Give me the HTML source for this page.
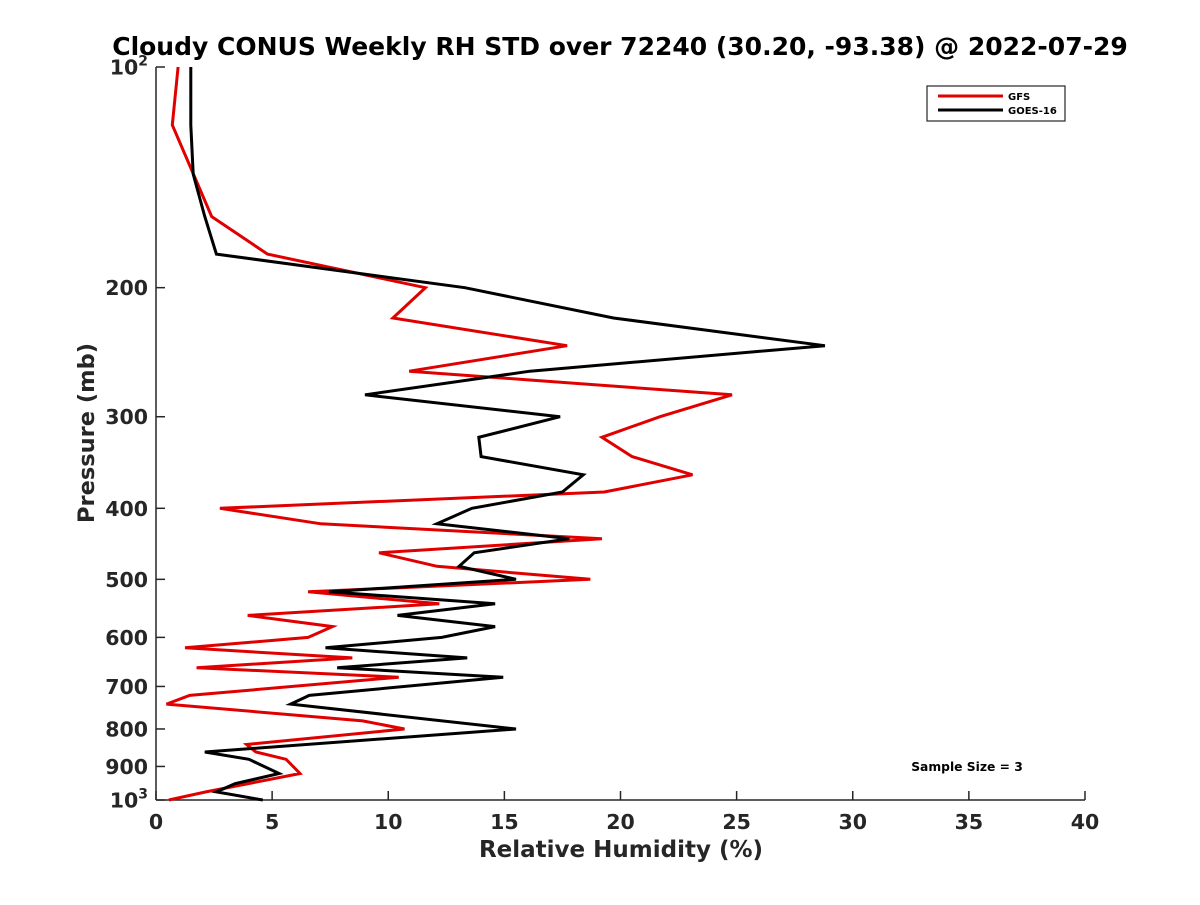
<!DOCTYPE html>
<html><head><meta charset="utf-8"><style>
body{margin:0;background:#fff;}
svg text{font-family:"DejaVu Sans","Liberation Sans",sans-serif;font-weight:bold;fill:#262626;}
</style></head><body>
<svg id="chart" width="1200" height="900" xmlns="http://www.w3.org/2000/svg">
<rect width="1200" height="900" fill="#fff"/>
<text x="620" y="55" font-size="25" text-anchor="middle" style="fill:#000">Cloudy CONUS Weekly RH STD over 72240 (30.20, -93.38) @ 2022-07-29</text>
<g id="axes"></g>
<g id="series"></g>
<g>
<rect x="927" y="86" width="138" height="35" fill="#fff" stroke="#262626" stroke-width="1.2"/>
<line x1="938" y1="96" x2="1003" y2="96" stroke="#e00000" stroke-width="3"/>
<text x="1008" y="100" font-size="10" style="fill:#000">GFS</text>
<line x1="938" y1="110" x2="1003" y2="110" stroke="#000" stroke-width="3"/>
<text x="1008" y="114" font-size="10" style="fill:#000">GOES-16</text>
</g>
<text x="967" y="771" font-size="12.3" text-anchor="middle" style="fill:#000">Sample Size = 3</text>
<text x="621" y="857" font-size="23" text-anchor="middle">Relative Humidity (%)</text>
<text transform="translate(94,433) rotate(-90)" font-size="22.5" text-anchor="middle">Pressure (mb)</text>
</svg>
<script>
const xTicks = [0,5,10,15,20,25,30,35,40];
const yTicks = [200,300,400,500,600,700,800,900];
const gfsP = [100,120,160,180,200,220,240,260,280,300,320,340,360,380,400,420,440,460,480,500,520,540,560,580,600,620,640,660,680,720,740,780,800,840,860,880,920,975,1000];
const gfsV = [0.95,0.7,2.4,4.8,11.6,10.2,17.7,10.9,24.8,21.7,19.2,20.5,23.1,19.3,2.75,7.1,19.2,9.6,12.1,18.7,6.55,12.2,3.95,7.6,6.55,1.25,8.45,1.75,10.45,1.45,0.45,8.9,10.7,3.9,4.3,5.6,6.2,2.15,0.55];
const goesP = [100,120,140,160,180,200,220,240,260,280,300,320,340,360,380,400,420,440,460,480,500,520,540,560,580,600,620,640,660,680,720,740,800,860,880,920,950,975,1000];
const goesV = [1.5,1.5,1.6,2.1,2.6,13.3,19.7,28.8,16.1,9.0,17.4,13.9,14.0,18.4,17.5,13.6,12.1,17.8,13.7,13.05,15.5,7.45,14.6,10.4,14.6,12.3,7.3,13.4,7.8,14.95,6.6,5.8,15.5,2.1,4.0,5.3,3.4,2.6,4.6];

const X0=156,X1=1085,Y0=67,Y1=800;
const xs=v=>X0+(v-0)/(40-0)*(X1-X0);
const ys=p=>Y0+(Math.log10(p)-2)*(Y1-Y0);
const NS='http://www.w3.org/2000/svg';
function mk(tag,attrs,parent){const e=document.createElementNS(NS,tag);for(const k in attrs)e.setAttribute(k,attrs[k]);parent.appendChild(e);return e;}
const axes=document.getElementById('axes');
const yAxis=mk('line',{x1:X0,y1:Y0,x2:X0,y2:Y1,stroke:'#262626','stroke-width':1.5},axes);


const xAxis=mk('line',{x1:X0,y1:Y1,x2:X1,y2:Y1,stroke:'#262626','stroke-width':1.5},axes);


xTicks.forEach(t=>{
  const x=xs(t);
  const tk=mk('line',{x1:x,y1:Y1,x2:x,y2:Y1-9,stroke:'#262626','stroke-width':1.5},axes);
  
  
  const lb=mk('text',{x:x,y:Y1+29,'font-size':20.5,'text-anchor':'middle'},axes);
  lb.textContent=t;
  
  
});
[100,1000].concat(yTicks).forEach(p=>{
  const y=ys(p);
  const tk=mk('line',{x1:X0,y1:y,x2:X0+9,y2:y,stroke:'#262626','stroke-width':1.5},axes);
  
  
});
yTicks.forEach(p=>{
  const lb=mk('text',{x:X0-8,y:ys(p)+7.5,'font-size':20.5,'text-anchor':'end'},axes);
  lb.textContent=p;
  
  
});
[[100,'2'],[1000,'3']].forEach(([p,e])=>{
  const lb=mk('text',{x:X0-8,y:ys(p)+7.5,'font-size':20.5,'text-anchor':'end'},axes);
  lb.innerHTML='10<tspan dy="-9" font-size="14">'+e+'</tspan>';
  
  
});
const ser=document.getElementById('series');
function line(P,V,color,name){
  const d=P.map((p,i)=>(i?'L':'M')+xs(V[i]).toFixed(1)+','+ys(p).toFixed(1)).join(' ');
  const el=mk('path',{d:d,fill:'none',stroke:color,'stroke-width':3,'stroke-linejoin':'miter'},ser);
  
  
}
line(gfsP,gfsV,'#e00000','gfs-line');
line(goesP,goesV,'#000','goes-16-line');
</script>
</body></html>
